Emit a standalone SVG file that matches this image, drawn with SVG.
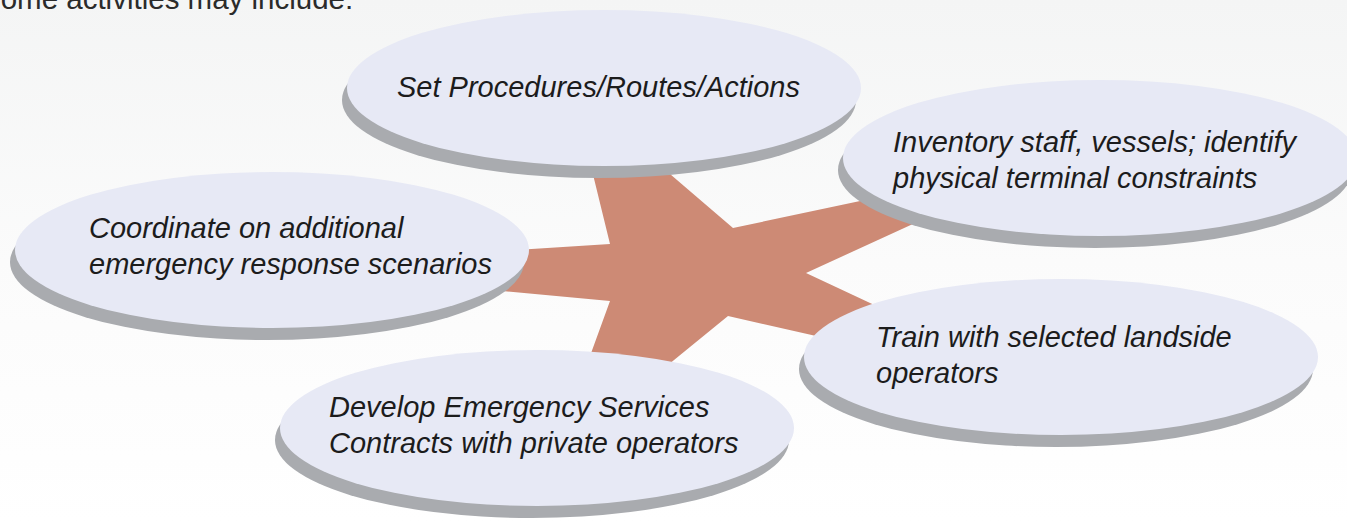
<svg xmlns="http://www.w3.org/2000/svg" width="1347" height="523" viewBox="0 0 1347 523">
  <defs>
    <linearGradient id="bg" x1="0" y1="0" x2="0" y2="1">
      <stop offset="0" stop-color="#f4f5f5"/>
      <stop offset="0.5" stop-color="#fbfbfb"/>
      <stop offset="1" stop-color="#ffffff"/>
    </linearGradient>
  </defs>
  <style>
    .shadow { fill: #a9abaf; }
    .face { fill: #e7e9f5; }
    .label { font-family: "Liberation Sans", Arial, sans-serif; font-style: italic; font-size: 29px; fill: #1c1c1c; }
    .title { font-family: "Liberation Sans", Arial, sans-serif; font-size: 29.5px; fill: #2b2b2b; }
    .hub { fill: #cd8a75; }
  </style>
  <rect x="0" y="0" width="1347" height="523" fill="url(#bg)"/>
  <text class="title" x="-19" y="9">Some activities may include:</text>

  <g id="connectors">
    <polygon class="hub" points="587,150 610,244 470,253 470,288 610,301 574,400 625,400 728,316 900,355 900,317 806,273 950,207 950,182 733,228 642,150"/>
  </g>

  <g id="node-procedures">
    <ellipse class="shadow" cx="599" cy="100" rx="257" ry="78"/>
    <ellipse class="face" cx="604" cy="88" rx="257" ry="78"/>
    <text class="label" x="397" y="97">Set Procedures/Routes/Actions</text>
  </g>

  <g id="node-inventory">
    <ellipse class="shadow" cx="1095" cy="170" rx="257" ry="78"/>
    <ellipse class="face" cx="1100" cy="158" rx="257" ry="78"/>
    <text class="label" x="893" y="152">Inventory staff, vessels; identify</text>
    <text class="label" x="893" y="188">physical terminal constraints</text>
  </g>

  <g id="node-coordinate">
    <ellipse class="shadow" cx="267" cy="262" rx="257" ry="78"/>
    <ellipse class="face" cx="272" cy="250" rx="257" ry="78"/>
    <text class="label" x="89" y="238">Coordinate on additional</text>
    <text class="label" x="89" y="274">emergency response scenarios</text>
  </g>

  <g id="node-train">
    <ellipse class="shadow" cx="1056" cy="369" rx="257" ry="78"/>
    <ellipse class="face" cx="1061" cy="357" rx="257" ry="78"/>
    <text class="label" x="876" y="347">Train with selected landside</text>
    <text class="label" x="876" y="383">operators</text>
  </g>

  <g id="node-develop">
    <ellipse class="shadow" cx="532" cy="440" rx="257" ry="78"/>
    <ellipse class="face" cx="537" cy="428" rx="257" ry="78"/>
    <text class="label" x="329" y="417">Develop Emergency Services</text>
    <text class="label" x="329" y="453">Contracts with private operators</text>
  </g>
</svg>
